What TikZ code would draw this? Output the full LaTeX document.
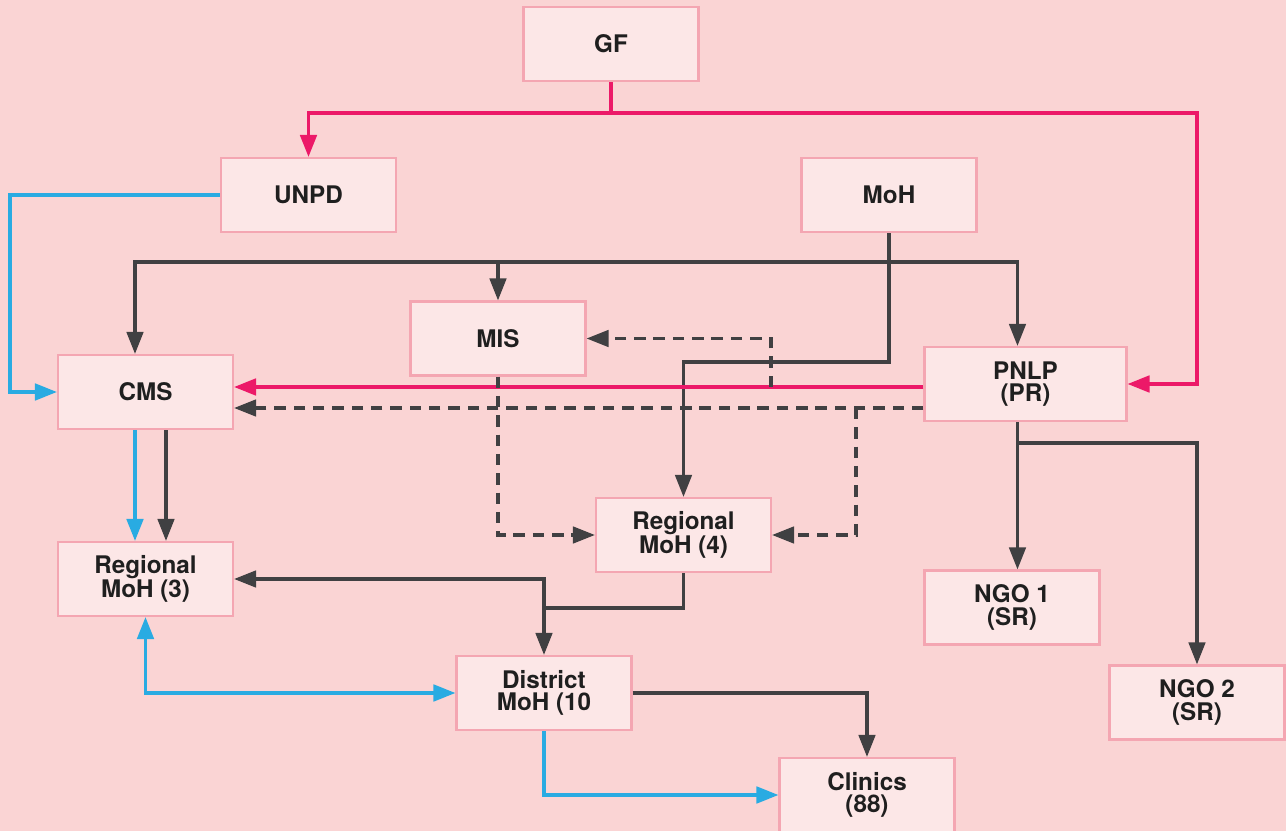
\documentclass[tikz,border=0pt]{standalone}
\usepackage{fontspec}
\setmainfont{TeX Gyre Heros}
\usetikzlibrary{shapes,arrows,arrows.meta}
\definecolor{bgpink}{RGB}{250,212,212}
\definecolor{boxfill}{RGB}{252,231,231}
\definecolor{boxline}{RGB}{244,166,178}
\definecolor{flowpink}{RGB}{236,25,104}
\definecolor{flowblue}{RGB}{41,171,226}
\definecolor{flowgray}{RGB}{64,64,66}
\tikzstyle{block} = [rectangle, draw=boxline, line width=1.2pt, fill=boxfill,
    minimum width=3.5cm, minimum height=1.48cm, align=center,
    font=\fontsize{13.8}{12.8}\selectfont\bfseries, text=black!88]
\tikzstyle{arrowline} = [draw=flowgray, line width=1.75pt, -{Triangle[length=0.44cm,width=0.33cm]}]
\tikzstyle{pinkline} = [arrowline, draw=flowpink, line width=1.9pt]
\tikzstyle{blueline} = [arrowline, draw=flowblue, line width=1.9pt]
\tikzstyle{blueboth} = [blueline, {Triangle[length=0.44cm,width=0.33cm]}-{Triangle[length=0.44cm,width=0.33cm]}]
\tikzstyle{dashline} = [arrowline, dash pattern=on 6.5pt off 4.5pt]

\begin{document}
\begin{tikzpicture}[x=0.02cm, y=-0.02cm]
    \useasboundingbox[fill=bgpink] (0,0) rectangle (1286,831);
    % Place nodes
    \node [block] (gf) at (611,44) {GF};
    \node [block] (unpd) at (308.5,195) {UNPD};
    \node [block] (moh) at (889,195) {MoH};
    \node [block] (mis) at (498,338.5) {MIS};
    \node [block] (cms) at (145.5,392) {CMS};
    \node [block, minimum width=4.04cm] (pnlp) at (1025.5,384) {PNLP\\(PR)};
    \node [block] (rmoh4) at (683.5,535) {Regional\\MoH (4)};
    \node [block] (rmoh3) at (145.5,579) {Regional\\MoH (3)};
    \node [block] (ngo1) at (1012,607.5) {NGO 1\\(SR)};
    \node [block] (ngo2) at (1197,702.5) {NGO 2\\(SR)};
    \node [block] (district) at (544,693) {District\\MoH (10};
    \node [block] (clinics) at (867,795) {Clinics\\(88)};
    \coordinate (gfsplit) at (gf.south |- 0,113);
    \coordinate (mohsplit) at (moh.south |- 0,262);
    \coordinate (pinksplit) at (771,387);
    \coordinate (dashsplit) at (856,408);
    \coordinate (rmsplit) at (district.north |- 0,608);
    \coordinate (ngosplit) at ([xshift=-0.16cm]pnlp.south |- 0,443);
    % Draw edges
    \path [pinkline, -] (gf.south) -- (gfsplit);
    \path [pinkline] (gfsplit) -| (unpd.north);
    \path [pinkline] (gfsplit) -| (1197,384) -- (pnlp.east);
    \path [blueline] (unpd.west) -- (10,195) |- (cms.west);
    \path [arrowline] (moh.south) -- (moh.south |- 0,362) -| (rmoh4.north);
    \path [arrowline] (mohsplit) -| ([xshift=-0.21cm]cms.north);
    \path [arrowline] (mohsplit) -| ([xshift=-0.16cm]pnlp.north);
    \path [arrowline] (mis.north |- mohsplit) -- (mis.north);
    \path [pinkline] (pnlp.west |- 0,387) -- (cms.east |- 0,387);
    \path [dashline] (pnlp.west |- dashsplit) -- (cms.east |- dashsplit);
    \path [dashline] (dashsplit) |- (rmoh4.east);
    \path [dashline] (pinksplit) |- (mis.east);
    \path [dashline] (mis.south) |- (rmoh4.west);
    \path [blueline] ([xshift=-0.21cm]cms.south) -- ([xshift=-0.21cm]rmoh3.north);
    \path [arrowline] ([xshift=0.41cm]cms.south) -- ([xshift=0.41cm]rmoh3.north);
    \path [arrowline] (rmoh4.south) |- (rmsplit) -- (district.north);
    \path [arrowline] (rmsplit) |- (rmoh3.east);
    \path [blueboth] (rmoh3.south) |- (district.west);
    \path [arrowline] (district.east) -| (clinics.north);
    \path [blueline] (district.south) |- (clinics.west);
    \path [arrowline] ([xshift=-0.16cm]pnlp.south) -- (ngosplit) -- (ngosplit |- ngo1.north);
    \path [arrowline] (ngosplit) -| (ngo2.north);
\end{tikzpicture}
\end{document}
